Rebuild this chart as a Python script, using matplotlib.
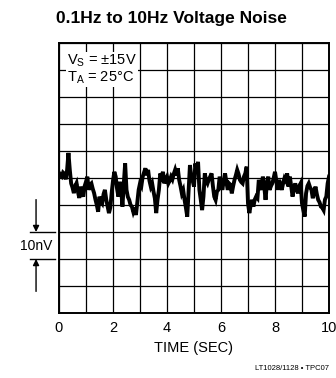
import matplotlib
matplotlib.use("Agg")
import matplotlib.pyplot as plt
import matplotlib.transforms as mtransforms

plt.rcParams['font.family'] = ['Liberation Sans', 'DejaVu Sans']
plt.rcParams['mathtext.default'] = 'regular'

# noise trace, one sample every 50 ms (nV)
noise_nv = [
    1.9, 1.0, 0.5, 2.0, 1.5, -0.5, 3.0, 9.3, 3.0, -2.0,
    -3.5, -5.6, -3.0, -1.9, -5.0, -7.4, -3.2, -5.5, -6.9, -3.0,   # 0-1 s
    -1.4, 0.5, -4.4, -2.5, -2.0, -4.0, -5.6, -8.0, -10.0, -12.5,
    -6.9, -8.5, -9.3, -6.0, -4.4, -8.0, -10.6, -13.0, -11.0, -5.6,  # 1-2 s
    -1.0, 2.3, 0.5, -4.0, -6.9, -1.4, -4.0, -10.6, -2.0, 5.4,
    -4.4, -7.0, -8.1, -10.0, -10.6, -12.5, -11.0, -13.7, -9.0, -4.4,  # 2-3 s
    -2.0, -3.0, 0.5, 2.0, 3.6, 1.0, 3.0, -1.0, -3.2, -2.0,
    -5.0, -7.5, -13.0, -8.0, -4.4, 1.7, 0.5, 2.3, -2.0, -0.5,  # 3-4 s
    0.5, -2.0, -1.0, 0.5, -0.5, 1.5, 3.0, 1.0, 3.6, -0.7,
    -3.0, -5.7, -4.5, -8.1, -11.0, -14.3, -4.4, 4.8, 0.5, -1.0,  # 4-5 s
    -3.2, 5.4, 2.0, 6.0, -4.4, -8.0, -11.9, -6.9, 1.7, -1.0,
    -2.0, -0.5, 0.5, 1.7, -3.0, -6.9, -8.1, -5.0, -4.4, 0.5,  # 5-6 s
    -2.0, -4.4, -1.0, 1.7, -1.5, -4.4, -2.0, -2.5, -5.7, -3.0,
    -0.7, 1.0, 3.0, 1.5, -0.7, -1.5, -2.0, 0.5, 1.7, 4.2,  # 6-7 s
    -9.4, -13.0, -10.0, -8.1, -10.6, -8.0, -6.9, -7.5, -0.7, -3.0,
    -4.4, 0.5, -3.0, -8.1, -2.0, 0.5, -4.4, -3.0, -2.0, 0.0,  # 7-8 s
    2.3, -1.0, -4.4, -0.7, -2.5, -4.4, -2.0, -0.1, -1.0, 1.7,
    -3.2, 0.5, -3.0, -6.9, -4.0, -2.0, -4.0, -5.7, -3.0, -2.0,  # 8-9 s
    -9.4, -12.0, -14.3, -5.7, -3.0, -2.0, -3.5, -4.4, -7.5, -5.0,
    -3.2, -6.0, -8.1, -9.0, -10.6, -11.0, -11.9, -8.0, -6.9, -2.0,  # 9-10 s
    0.5,
]
sample_period_s = 0.05
time_s = [i * sample_period_s for i in range(len(noise_nv))]

x_ticks = list(range(0, 11))
x_labels = ['0', '', '2', '', '4', '', '6', '', '8', '', '10']
y_grid = list(range(-50, 51, 10))

fig = plt.figure(figsize=(3.36, 3.78), dpi=100)
ax = fig.add_axes([59 / 336, 65 / 378, 270 / 336, 270 / 378])

ax.plot(time_s, noise_nv, color='black', linewidth=2.8, solid_joinstyle='miter')

ax.set_xlim(0, 10)
ax.set_ylim(-50, 50)
ax.set_xticks(x_ticks)
ax.set_xticklabels(x_labels, fontsize=10.5)
ax.set_yticks(y_grid)
ax.set_yticklabels([])
ax.tick_params(length=0, pad=6)
ax.grid(True, color='black', linewidth=0.9)
for sp in ax.spines.values():
    sp.set_linewidth(1.4)
ax.set_xlabel('TIME (SEC)', fontsize=10.5, labelpad=4)

ax.text(0.03, 0.965, 'V$_S$ = ±15V\nT$_A$ = 25°C', transform=ax.transAxes,
        ha='left', va='top', fontsize=10.5, linespacing=1.05,
        bbox=dict(facecolor='white', edgecolor='none', pad=0.5))

fig.text(0.51, 0.952, '0.1Hz to 10Hz Voltage Noise', ha='center', va='center',
         fontsize=12.5, fontweight='bold')
fig.text(329 / 336, 6 / 378, 'LT1028/1128 • TPC07', ha='right', va='bottom',
         fontsize=5.5)

# 10nV scale marker left of the plot
trans = mtransforms.blended_transform_factory(ax.transAxes, ax.transData)
for yv in (-20, -30):
    ax.plot([-0.107, -0.015], [yv, yv], color='black', linewidth=1.0,
            transform=trans, clip_on=False)
ax.annotate('', xy=(-0.085, -20), xytext=(-0.085, -8), xycoords=trans,
            textcoords=trans, annotation_clip=False,
            arrowprops=dict(arrowstyle='-|>', color='black', lw=1.0,
                            mutation_scale=9, shrinkA=0, shrinkB=0))
ax.annotate('', xy=(-0.085, -30), xytext=(-0.085, -42), xycoords=trans,
            textcoords=trans, annotation_clip=False,
            arrowprops=dict(arrowstyle='-|>', color='black', lw=1.0,
                            mutation_scale=9, shrinkA=0, shrinkB=0))
ax.text(-0.085, -25, '10nV', transform=trans, ha='center', va='center',
        fontsize=10)

fig.savefig('out.png', dpi=100)
